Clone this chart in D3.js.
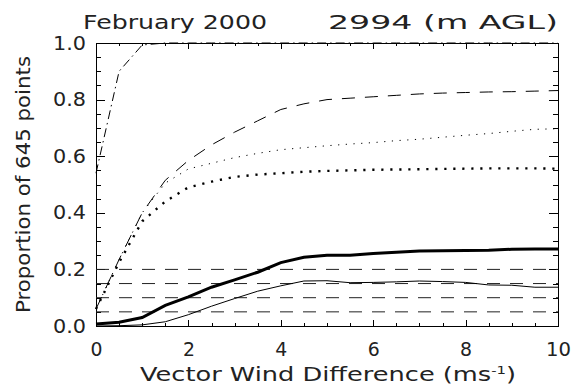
<!DOCTYPE html>
<html lang="en">
<head>
<meta charset="UTF-8">
<title>February 2000 2994 (m AGL)</title>
<script src="https://d3js.org/d3.v7.min.js"></script>
<style>
  body { margin: 0; padding: 0; background-color: #fff; }
  svg { display: block; }
  text { font-family: "DejaVu Sans", sans-serif; fill: #222; }
  .axis path, .axis line { stroke: #000; stroke-width: 1; shape-rendering: crispEdges; }
</style>
</head>
<body>
<svg id="chart" width="574" height="385"></svg>
<script>
// wind difference bins (ms-1)
const windDiff = [0, 0.5, 1, 1.5, 2, 2.5, 3, 3.5, 4, 4.5, 5, 5.5, 6, 6.5, 7, 7.5, 8, 8.5, 9, 9.5, 10];

// cumulative proportions, one list per curve
const dashDot    = [0.54, 0.90, 0.993, 1.0, 1.0, 1.0, 1.0, 1.0, 1.0, 1.0, 1.0, 1.0, 1.0, 1.0, 1.0, 1.0, 1.0, 1.0, 1.0, 1.0, 1.0];
const longDash   = [0.06, 0.235, 0.40, 0.515, 0.585, 0.64, 0.685, 0.725, 0.765, 0.785, 0.80, 0.805, 0.81, 0.815, 0.82, 0.823, 0.825, 0.827, 0.828, 0.83, 0.832];
const thinDot    = [0.06, 0.235, 0.40, 0.505, 0.555, 0.575, 0.595, 0.61, 0.623, 0.63, 0.637, 0.643, 0.648, 0.655, 0.66, 0.667, 0.674, 0.68, 0.688, 0.695, 0.697];
const thickDot   = [0.06, 0.225, 0.37, 0.44, 0.49, 0.51, 0.527, 0.535, 0.54, 0.545, 0.548, 0.55, 0.552, 0.553, 0.554, 0.555, 0.556, 0.557, 0.557, 0.557, 0.556];
const thickSolid = [0.007, 0.013, 0.03, 0.073, 0.103, 0.137, 0.163, 0.19, 0.224, 0.243, 0.25, 0.25, 0.256, 0.261, 0.265, 0.266, 0.267, 0.268, 0.271, 0.272, 0.272];
const thinSolid  = [0.0, 0.001, 0.004, 0.015, 0.04, 0.07, 0.097, 0.123, 0.142, 0.159, 0.16, 0.153, 0.154, 0.156, 0.159, 0.157, 0.154, 0.145, 0.144, 0.137, 0.137];

// horizontal reference levels
const refLevels = [0.05, 0.10, 0.15, 0.20];

// tick values
const xMajor = [0, 2, 4, 6, 8, 10];
const xMinor = [0.5, 1, 1.5, 2.5, 3, 3.5, 4.5, 5, 5.5, 6.5, 7, 7.5, 8.5, 9, 9.5];
const yMajor = [0, 0.2, 0.4, 0.6, 0.8, 1.0];
const yMinor = [0.05, 0.1, 0.15, 0.25, 0.3, 0.35, 0.45, 0.5, 0.55, 0.65, 0.7, 0.75, 0.85, 0.9, 0.95];

const svg = d3.select("#chart");
const plotLeft = 96, plotRight = 558, plotTop = 43, plotBottom = 326;

const x = d3.scaleLinear().domain([0, 10]).range([plotLeft, plotRight]);
const y = d3.scaleLinear().domain([0, 1]).range([plotBottom, plotTop]);

const xTick = 0.02 * (plotBottom - plotTop);
const yTick = 0.02 * (plotRight - plotLeft);

// axes: ticks point inward like the original box plot
const addAxis = (axis, tx, ty, cls) => svg.append("g")
    .attr("class", "axis " + (cls || ""))
    .attr("transform", `translate(${tx},${ty})`)
    .call(axis);

addAxis(d3.axisBottom(x).tickValues(xMajor).tickSize(-xTick).tickSizeOuter(0)
    .tickPadding(17).tickFormat(d3.format("d")), 0, plotBottom, "xlab");
addAxis(d3.axisBottom(x).tickValues(xMinor).tickSize(-xTick / 2).tickFormat(""), 0, plotBottom, "minor");
addAxis(d3.axisTop(x).tickValues(xMajor).tickSize(-xTick).tickSizeOuter(0).tickFormat(""), 0, plotTop);
addAxis(d3.axisTop(x).tickValues(xMinor).tickSize(-xTick / 2).tickFormat(""), 0, plotTop, "minor");

addAxis(d3.axisLeft(y).tickValues(yMajor).tickSize(-yTick).tickSizeOuter(0)
    .tickPadding(10).tickFormat(d3.format(".1f")), plotLeft, 0, "ylab");
addAxis(d3.axisLeft(y).tickValues(yMinor).tickSize(-yTick / 2).tickFormat(""), plotLeft, 0, "minor");
addAxis(d3.axisRight(y).tickValues(yMajor).tickSize(-yTick).tickSizeOuter(0).tickFormat(""), plotRight, 0);
addAxis(d3.axisRight(y).tickValues(yMinor).tickSize(-yTick / 2).tickFormat(""), plotRight, 0, "minor");

svg.selectAll(".minor path").remove();
svg.selectAll(".axis text")
    .attr("font-size", 19)
    .attr("font-family", "DejaVu Sans, sans-serif")
    .attr("fill", "#222");
// widen the digits a bit, like the stroke font of the original
svg.selectAll(".ylab text").attr("textLength", 33).attr("lengthAdjust", "spacingAndGlyphs");
svg.selectAll(".xlab text").attr("textLength", (d) => d >= 10 ? 25 : 12).attr("lengthAdjust", "spacingAndGlyphs");

// reference dashed lines
svg.selectAll("line.ref")
    .data(refLevels)
    .enter()
    .append("line")
    .attr("class", "ref")
    .attr("x1", x(0))
    .attr("x2", x(10))
    .attr("y1", (d) => y(d))
    .attr("y2", (d) => y(d))
    .attr("stroke", "#222")
    .attr("stroke-width", 1)
    .attr("stroke-dasharray", "13,10");

// curves
const curves = [
    { values: dashDot,    width: 1,   dash: "9,4,1.5,4" },
    { values: longDash,   width: 1,   dash: "13,10" },
    { values: thinDot,    width: 1,   dash: "1.2,6.5" },
    { values: thickDot,   width: 2.4, dash: "2.2,6.8" },
    { values: thickSolid, width: 3,   dash: null },
    { values: thinSolid,  width: 1,   dash: null },
];

const line = d3.line()
    .x((d, i) => x(windDiff[i]))
    .y((d) => y(d));

svg.selectAll("path.curve")
    .data(curves)
    .enter()
    .append("path")
    .attr("class", "curve")
    .attr("d", (d) => line(d.values))
    .attr("fill", "none")
    .attr("stroke", "#000")
    .attr("stroke-width", (d) => d.width)
    .attr("stroke-dasharray", (d) => d.dash);

// titles
svg.append("text")
    .attr("x", 83).attr("y", 29)
    .attr("font-size", 20)
    .attr("textLength", 184).attr("lengthAdjust", "spacingAndGlyphs")
    .text("February 2000");
svg.append("text")
    .attr("x", 328).attr("y", 29)
    .attr("font-size", 20)
    .attr("textLength", 230).attr("lengthAdjust", "spacingAndGlyphs")
    .text("2994 (m AGL)");

const xTitle = svg.append("text")
    .attr("x", 140).attr("y", 381)
    .attr("font-size", 19)
    .attr("textLength", 376).attr("lengthAdjust", "spacingAndGlyphs");
xTitle.append("tspan").text("Vector Wind Difference (ms");
xTitle.append("tspan").attr("dy", -7).attr("font-size", 11).text("-1");
xTitle.append("tspan").attr("dy", 7).text(")");

svg.append("text")
    .attr("transform", `translate(30,${(plotTop + plotBottom) / 2}) rotate(-90)`)
    .attr("text-anchor", "middle")
    .attr("font-size", 19)
    .attr("textLength", 257).attr("lengthAdjust", "spacingAndGlyphs")
    .text("Proportion of 645 points");
</script>
</body>
</html>
